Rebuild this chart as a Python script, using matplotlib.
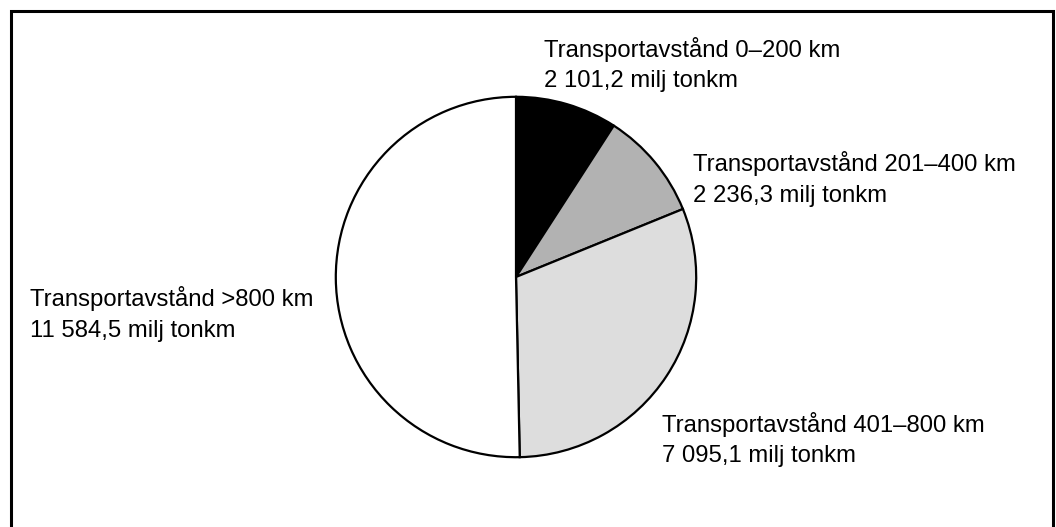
import matplotlib
matplotlib.use("Agg")
import matplotlib.pyplot as plt
from matplotlib.patches import Rectangle

categories = ["Transportavstånd 0–200 km", "Transportavstånd 201–400 km",
              "Transportavstånd 401–800 km", "Transportavstånd >800 km"]
values = [2101.2, 2236.3, 7095.1, 11584.5]
value_labels = ["2 101,2 milj tonkm", "2 236,3 milj tonkm",
                "7 095,1 milj tonkm", "11 584,5 milj tonkm"]
colors = ["#000000", "#b2b2b2", "#dddddd", "#ffffff"]

W, H = 1056, 527
fig = plt.figure(figsize=(W / 100, H / 100), dpi=100)
plt.rcParams['font.family'] = ['Liberation Sans', 'DejaVu Sans']

cx, cy, r = 516, 277, 182
ax = fig.add_axes([(cx - r) / W, (H - cy - r) / H, 2 * r / W, 2 * r / H])
ax.pie(values, colors=colors, startangle=90, counterclock=False,
       wedgeprops=dict(edgecolor="black", linewidth=1.6), radius=1)
ax.set_xlim(-1.01, 1.01)
ax.set_ylim(-1.01, 1.01)
ax.set_aspect('equal')
ax.axis('off')

# frame
fig.patches.append(Rectangle((10.5 / W, -0.05), (1053 - 10.5) / W, (H - 10.5) / H + 0.05,
                             transform=fig.transFigure, fill=False,
                             edgecolor="black", linewidth=2.2))

# label positions: (left x, baseline y of line 1, baseline y of line 2) in px from top
label_pos = [(544, 57, 87), (693, 171, 202), (662, 432, 462), (30, 306, 337)]
fs = 17.2
for (x, y1, y2), cat, val in zip(label_pos, categories, value_labels):
    fig.text(x / W, 1 - y1 / H, cat, fontsize=fs, ha='left', va='baseline')
    fig.text(x / W, 1 - y2 / H, val, fontsize=fs, ha='left', va='baseline')

fig.savefig("out.png", dpi=100)
